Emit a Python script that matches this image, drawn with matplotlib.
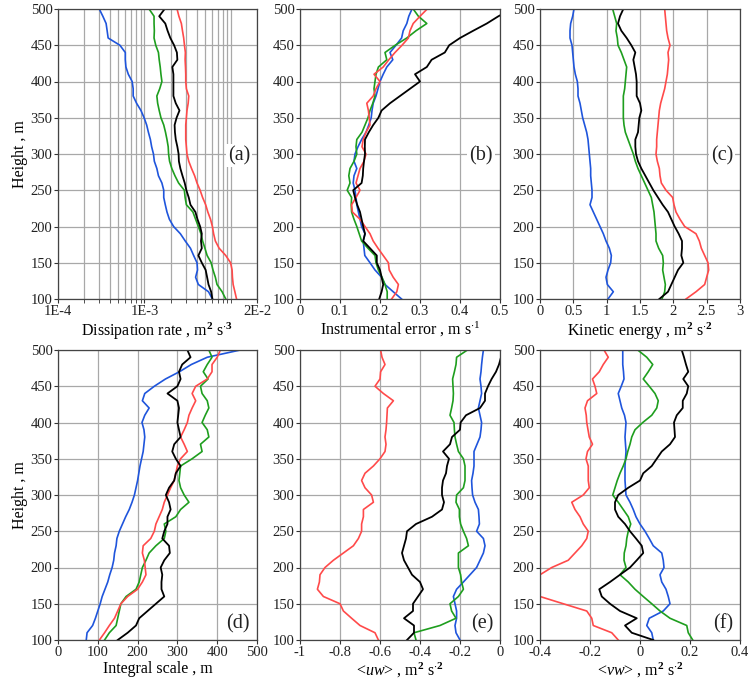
import numpy as np
import matplotlib
matplotlib.use("Agg")
import matplotlib.pyplot as plt

plt.rcParams['font.family'] = ['Liberation Serif', 'DejaVu Serif']
plt.rcParams['mathtext.fontset'] = 'custom'
plt.rcParams['mathtext.rm'] = 'Liberation Serif'
plt.rcParams['mathtext.it'] = 'Liberation Serif:italic'
plt.rcParams['mathtext.bf'] = 'Liberation Serif:bold'

heights = list(range(100, 501, 10))

# (a) Dissipation rate, units of 1e-3 m2 s-3
eps_blue = [6.1, 5.5, 4.2, 3.9, 4.1, 4.05, 3.7, 3.4, 2.96, 2.6, 2.17, 1.94, 1.82, 1.74, 1.67, 1.67,
            1.59, 1.45, 1.39, 1.3, 1.27, 1.21, 1.17, 1.11, 1.06, 0.99, 0.91, 0.81, 0.74, 0.74, 0.72,
            0.65, 0.61, 0.6, 0.6, 0.52, 0.38, 0.37, 0.36, 0.33, 0.30]
eps_green = [8.7, 7.9, 6.9, 6.6, 6.2, 5.9, 5.3, 5.0, 4.7, 4.5, 4.2, 3.9, 3.63, 3.05, 2.95, 2.89,
             2.48, 2.25, 2.07, 1.95, 1.9, 1.88, 1.82, 1.75, 1.67, 1.55, 1.48, 1.42, 1.39, 1.5, 1.59,
             1.55, 1.52, 1.48, 1.45, 1.35, 1.29, 1.3, 1.29, 1.29, 1.13]
eps_black = [6.1, 5.9, 5.5, 5.3, 5.1, 4.6, 4.2, 4.6, 4.5, 4.6, 4.4, 4.1, 3.88, 3.4, 3.25, 3.05,
             2.92, 2.75, 2.6, 2.5, 2.48, 2.4, 2.3, 2.25, 2.23, 2.35, 2.54, 2.3, 2.16, 2.16, 2.16,
             2.16, 2.1, 2.4, 2.37, 2.2, 1.99, 1.85, 1.74, 1.48, 1.71]
eps_red = [11.6, 11.1, 10.6, 10.4, 10.3, 9.9, 8.7, 7.3, 6.6, 6.3, 6.1, 5.8, 5.4, 5.1, 4.7, 4.4,
           4.05, 3.8, 3.5, 3.25, 3.1, 3.05, 3.0, 3.0, 3.0, 3.05, 3.1, 3.2, 3.25, 3.05, 3.0,
           3.0, 2.98, 2.95, 2.97, 2.9, 2.84, 2.75, 2.67, 2.5, 2.38]

# (b) Instrumental error, m s-1
err_blue = [0.254, 0.233, 0.2125, 0.204, 0.1875, 0.175, 0.162, 0.16, 0.158, 0.1625, 0.154, 0.15,
            0.146, 0.142, 0.14, 0.1375, 0.133, 0.135, 0.142, 0.135, 0.1375, 0.145, 0.154, 0.165,
            0.172, 0.178, 0.18, 0.183, 0.19, 0.195, 0.2, 0.208, 0.217, 0.232, 0.225, 0.24, 0.254,
            0.258, 0.267, 0.272, 0.28]
err_green = [0.218, 0.218, 0.2125, 0.205, 0.196, 0.19, 0.1875, 0.17, 0.154, 0.148, 0.142, 0.135,
             0.129, 0.128, 0.129, 0.118, 0.125, 0.122, 0.125, 0.135, 0.142, 0.14, 0.142, 0.155,
             0.1625, 0.17, 0.175, 0.182, 0.1875, 0.185, 0.1875, 0.19, 0.196, 0.217, 0.2125, 0.238,
             0.267, 0.29, 0.317, 0.296, 0.283]
err_red = [0.229, 0.242, 0.246, 0.233, 0.223, 0.221, 0.208, 0.195, 0.183, 0.175, 0.1625, 0.15,
           0.131, 0.129, 0.14, 0.15, 0.14, 0.145, 0.15, 0.16, 0.165, 0.155, 0.158, 0.165, 0.175,
           0.173, 0.171, 0.167, 0.183, 0.19, 0.2, 0.185, 0.208, 0.222, 0.2375, 0.255, 0.271,
           0.275, 0.283, 0.3, 0.318]
err_black = [0.198, 0.204, 0.208, 0.204, 0.2, 0.192, 0.192, 0.175, 0.158, 0.1625, 0.158, 0.154,
             0.15, 0.143, 0.1375, 0.133, 0.154, 0.157, 0.158, 0.16, 0.1625, 0.162, 0.1625, 0.172,
             0.183, 0.196, 0.204, 0.225, 0.25, 0.275, 0.3, 0.2875, 0.317, 0.329, 0.362, 0.373,
             0.4, 0.433, 0.467, 0.496, 0.53]

# (c) Kinetic energy, m2 s-2
ke_blue = [1.02, 1.1, 1.01, 0.99, 1.02, 1.06, 1.07, 1.04, 0.99, 0.95, 0.9, 0.85, 0.8, 0.75, 0.78,
           0.78, 0.77, 0.76, 0.76, 0.75, 0.74, 0.73, 0.72, 0.7, 0.67, 0.64, 0.62, 0.6, 0.57, 0.57,
           0.56, 0.53, 0.51, 0.5, 0.49, 0.48, 0.45, 0.45, 0.46, 0.49, 0.51]
ke_green = [1.83, 1.87, 1.88, 1.86, 1.84, 1.85, 1.84, 1.78, 1.74, 1.74, 1.73, 1.72, 1.71, 1.69,
            1.67, 1.62, 1.57, 1.52, 1.47, 1.43, 1.4, 1.36, 1.32, 1.28, 1.26, 1.25, 1.25, 1.25, 1.25,
            1.27, 1.28, 1.29, 1.3, 1.26, 1.22, 1.17, 1.16, 1.14, 1.15, 1.12, 1.09]
ke_black = [1.79, 1.92, 1.97, 2.02, 2.07, 2.15, 2.12, 2.13, 2.13, 2.08, 2.02, 1.97, 1.92, 1.84,
            1.77, 1.7, 1.64, 1.58, 1.52, 1.47, 1.44, 1.43, 1.43, 1.47, 1.48, 1.49, 1.52, 1.5, 1.45,
            1.45, 1.45, 1.44, 1.42, 1.4, 1.43, 1.37, 1.3, 1.22, 1.17, 1.2, 1.25]
ke_red = [2.19, 2.34, 2.47, 2.5, 2.53, 2.52, 2.47, 2.42, 2.39, 2.34, 2.17, 2.1, 2.04, 2.01, 1.99,
          1.89, 1.82, 1.8, 1.79, 1.76, 1.74, 1.75, 1.75, 1.76, 1.77, 1.78, 1.79, 1.81, 1.84, 1.87,
          1.89, 1.91, 1.92, 1.93, 1.92, 1.95, 1.92, 1.9, 1.89, 1.88, 1.87]

# (d) Integral scale, m
L_blue = [71, 73, 87, 94, 100, 106, 111, 118, 125, 130, 136, 140, 142, 146, 148, 154, 162, 170,
          179, 186, 192, 196, 200, 203, 206, 210, 214, 216, 218, 216, 211, 218, 229, 212, 218,
          242, 270, 305, 335, 375, 458]
L_green = [117, 129, 146, 150, 154, 158, 171, 196, 204, 208, 212, 221, 229, 246, 267, 271, 267,
           296, 308, 329, 317, 308, 304, 306, 308, 337, 362, 358, 379, 375, 362, 370, 379, 375,
           362, 358, 377, 365, 375, 387, 379]
L_red = [104, 117, 129, 142, 150, 158, 175, 200, 212, 221, 219, 217, 212, 214, 233, 242, 246,
         254, 262, 267, 275, 283, 292, 296, 300, 308, 325, 317, 308, 317, 325, 329, 337, 346,
         337, 346, 375, 387, 387, 400, 408]
L_black = [150, 175, 196, 204, 225, 246, 267, 260, 260, 262, 258, 267, 281, 279, 262, 267, 275,
           275, 283, 279, 271, 279, 292, 296, 308, 296, 287, 292, 308, 304, 300, 302, 304, 300,
           275, 300, 308, 304, 312, 333, 325]

# (e) <uw>, m2 s-2
uw_red = [-0.608, -0.625, -0.7, -0.742, -0.783, -0.8, -0.883, -0.913, -0.903, -0.9, -0.875,
          -0.833, -0.783, -0.733, -0.708, -0.692, -0.692, -0.683, -0.683, -0.633, -0.642, -0.675,
          -0.692, -0.675, -0.633, -0.6, -0.575, -0.57, -0.575, -0.57, -0.567, -0.565, -0.563,
          -0.533, -0.583, -0.625, -0.6, -0.597, -0.575, -0.59, -0.597]
uw_black = [-0.465, -0.43, -0.43, -0.48, -0.435, -0.435, -0.41, -0.385, -0.4, -0.44, -0.46,
            -0.48, -0.49, -0.48, -0.47, -0.465, -0.42, -0.34, -0.29, -0.28, -0.29, -0.29, -0.285,
            -0.27, -0.265, -0.255, -0.285, -0.25, -0.24, -0.2, -0.197, -0.17, -0.1, -0.075,
            -0.075, -0.06, -0.042, -0.02, -0.005, 0.005, 0.03]
uw_green = [-0.42, -0.43, -0.3, -0.22, -0.242, -0.25, -0.208, -0.183, -0.192, -0.197, -0.208,
            -0.208, -0.208, -0.158, -0.167, -0.183, -0.197, -0.203, -0.203, -0.22, -0.217, -0.183,
            -0.175, -0.175, -0.175, -0.183, -0.208, -0.217, -0.225, -0.228, -0.23, -0.25, -0.242,
            -0.235, -0.233, -0.235, -0.237, -0.228, -0.22, -0.217, -0.163]
uw_blue = [-0.2, -0.22, -0.225, -0.217, -0.217, -0.225, -0.233, -0.217, -0.183, -0.15, -0.117,
           -0.1, -0.083, -0.075, -0.083, -0.117, -0.103, -0.105, -0.108, -0.125, -0.137, -0.14,
           -0.142, -0.135, -0.13, -0.13, -0.13, -0.115, -0.1, -0.095, -0.092, -0.1, -0.108,
           -0.1, -0.092, -0.095, -0.1, -0.095, -0.092, -0.088, -0.083]

# (f) <vw>, m2 s-2
vw_red = [-0.087, -0.113, -0.187, -0.193, -0.213, -0.307, -0.4, -0.5, -0.5, -0.4, -0.353, -0.287,
          -0.26, -0.233, -0.213, -0.207, -0.227, -0.24, -0.26, -0.273, -0.227, -0.203, -0.207,
          -0.207, -0.207, -0.216, -0.21, -0.19, -0.203, -0.208, -0.213, -0.215, -0.22, -0.21,
          -0.173, -0.18, -0.19, -0.163, -0.147, -0.127, -0.144]
vw_blue = [0.053, 0.047, 0.027, 0.037, 0.093, 0.12, 0.113, 0.104, 0.087, 0.08, 0.096, 0.093,
           0.087, 0.053, 0.037, 0.02, 0.0, -0.016, -0.027, -0.04, -0.056, -0.058, -0.06, -0.06,
           -0.06, -0.058, -0.056, -0.058, -0.06, -0.058, -0.056, -0.062, -0.073, -0.08, -0.087,
           -0.075, -0.064, -0.066, -0.069, -0.069, -0.069]
vw_green = [0.211, 0.193, 0.187, 0.12, 0.08, 0.047, 0.013, -0.02, -0.047, -0.08, -0.056, -0.064,
            -0.063, -0.056, -0.053, -0.047, -0.037, -0.047, -0.067, -0.087, -0.109, -0.1, -0.091,
            -0.08, -0.067, -0.056, -0.049, -0.04, -0.033, -0.02, 0.011, 0.047, 0.067, 0.073,
            0.06, 0.037, 0.013, 0.033, 0.051, 0.027, -0.009]
vw_black = [0.053, -0.033, -0.06, -0.013, -0.08, -0.12, -0.153, -0.163, -0.12, -0.08, -0.04,
            -0.013, 0.013, 0.007, -0.016, -0.04, -0.06, -0.087, -0.1, -0.1, -0.087, -0.047, 0.0,
            0.013, 0.047, 0.067, 0.087, 0.12, 0.14, 0.138, 0.136, 0.147, 0.171, 0.171, 0.187,
            0.193, 0.173, 0.193, 0.184, 0.176, 0.167]

C_BLUE = '#1f55dc'
C_GREEN = '#1e9e1e'
C_RED = '#ff4a4a'
C_BLACK = '#000000'
GRID = '#a8a8a8'

fig = plt.figure(figsize=(7.49, 6.79), dpi=100)
W, H = 749.0, 679.0
cols = [(58, 257), (300, 500), (540, 740)]
rows = [(9, 299), (350, 640)]

axes = []
for r, (t, b) in enumerate(rows):
    for c, (l, rr) in enumerate(cols):
        ax = fig.add_axes([l / W, 1 - b / H, (rr - l) / W, (b - t) / H])
        axes.append(ax)

def style(ax):
    ax.set_ylim(100, 500)
    ax.set_yticks(list(range(100, 501, 50)))
    ax.grid(True, which='major', color=GRID, linewidth=0.9)
    ax.set_axisbelow(True)
    ax.tick_params(direction='out', length=3, width=0.8, labelsize=10.5, pad=1, colors='#333333',
                   labelcolor='#222222')
    for s in ax.spines.values():
        s.set_color('#444444')
        s.set_linewidth(0.9)

def plot4(ax, x_b, x_g, x_k, x_r):
    ax.plot(x_b, heights, color=C_BLUE, lw=1.2)
    ax.plot(x_g, heights, color=C_GREEN, lw=1.2)
    ax.plot(x_r, heights, color=C_RED, lw=1.2)
    ax.plot(x_k, heights, color=C_BLACK, lw=1.3)

def panel_label(ax, txt, y):
    ax.text(0.965, y, txt, transform=ax.transAxes, ha='right', va='center', fontsize=14.5,
            color='#222222', bbox=dict(facecolor='white', edgecolor='none', pad=1.5))

LBL = 11.5

# (a)
ax = axes[0]
sc = 1e-3
plot4(ax, np.array(eps_blue) * sc, np.array(eps_green) * sc, np.array(eps_black) * sc,
      np.array(eps_red) * sc)
ax.set_xscale('log')
ax.set_xlim(1e-4, 2e-2)
style(ax)
ax.set_xticks([1e-4, 1e-3, 2e-2])
ax.set_xticklabels(['1E-4', '1E-3', '2E-2'])
minor = [k * 1e-4 for k in range(2, 10)] + [k * 1e-3 for k in range(2, 10)] + [1e-2]
ax.set_xticks(minor, minor=True)
ax.set_xticklabels([], minor=True)
ax.tick_params(which='minor', direction='out', length=3, width=0.6, colors='#333333')
ax.grid(True, which='minor', axis='x', color=GRID, linewidth=0.9)
ax.set_xlabel(r'Dissipation rate , m$^{\mathbf{2}}$ s$^{\mathbf{\cdot 3}}$', fontsize=LBL, labelpad=2)
ax.set_ylabel('Height , m', fontsize=LBL, labelpad=2)
panel_label(ax, '(a)', 0.495)

# (b)
ax = axes[1]
plot4(ax, err_blue, err_green, err_black, err_red)
ax.set_xlim(0, 0.5)
style(ax)
ax.set_xticks([0, 0.1, 0.2, 0.3, 0.4, 0.5])
ax.set_xticklabels(['0', '0.1', '0.2', '0.3', '0.4', '0.5'])
ax.set_xlabel(r'Instrumental error , m s$^{\cdot 1}$', fontsize=LBL, labelpad=2)
panel_label(ax, '(b)', 0.495)

# (c)
ax = axes[2]
plot4(ax, ke_blue, ke_green, ke_black, ke_red)
ax.set_xlim(0, 3)
style(ax)
ax.set_xticks([0, 0.5, 1, 1.5, 2, 2.5, 3])
ax.set_xticklabels(['0', '0.5', '1', '1.5', '2', '2.5', '3'])
ax.set_xlabel(r'Kinetic energy , m$^{\mathbf{2}}$ s$^{\mathbf{\cdot 2}}$', fontsize=LBL, labelpad=2)
panel_label(ax, '(c)', 0.495)

# (d)
ax = axes[3]
plot4(ax, L_blue, L_green, L_black, L_red)
ax.set_xlim(0, 500)
style(ax)
ax.set_xticks([0, 100, 200, 300, 400, 500])
ax.set_xticklabels(['0', '100', '200', '300', '400', '500'])
ax.set_xlabel('Integral scale , m', fontsize=LBL, labelpad=2)
ax.set_ylabel('Height , m', fontsize=LBL, labelpad=2)
panel_label(ax, '(d)', 0.055)

# (e)
ax = axes[4]
plot4(ax, uw_blue, uw_green, uw_black, uw_red)
ax.set_xlim(-1, 0)
style(ax)
ax.set_xticks([-1, -0.8, -0.6, -0.4, -0.2, 0])
ax.set_xticklabels(['-1', '-0.8', '-0.6', '-0.4', '-0.2', '0'])
ax.set_xlabel(r'<$\it{uw}$> , m$^{\mathbf{2}}$ s$^{\mathbf{\cdot 2}}$', fontsize=LBL, labelpad=2)
panel_label(ax, '(e)', 0.055)

# (f)
ax = axes[5]
plot4(ax, vw_blue, vw_green, vw_black, vw_red)
ax.set_xlim(-0.4, 0.4)
style(ax)
ax.set_xticks([-0.4, -0.2, 0, 0.2, 0.4])
ax.set_xticklabels(['-0.4', '-0.2', '0', '0.2', '0.4'])
ax.set_xlabel(r'<$\it{vw}$> , m$^{\mathbf{2}}$ s$^{\mathbf{\cdot 2}}$', fontsize=LBL, labelpad=2)
panel_label(ax, '(f)', 0.055)

fig.savefig('out.png', dpi=100)
